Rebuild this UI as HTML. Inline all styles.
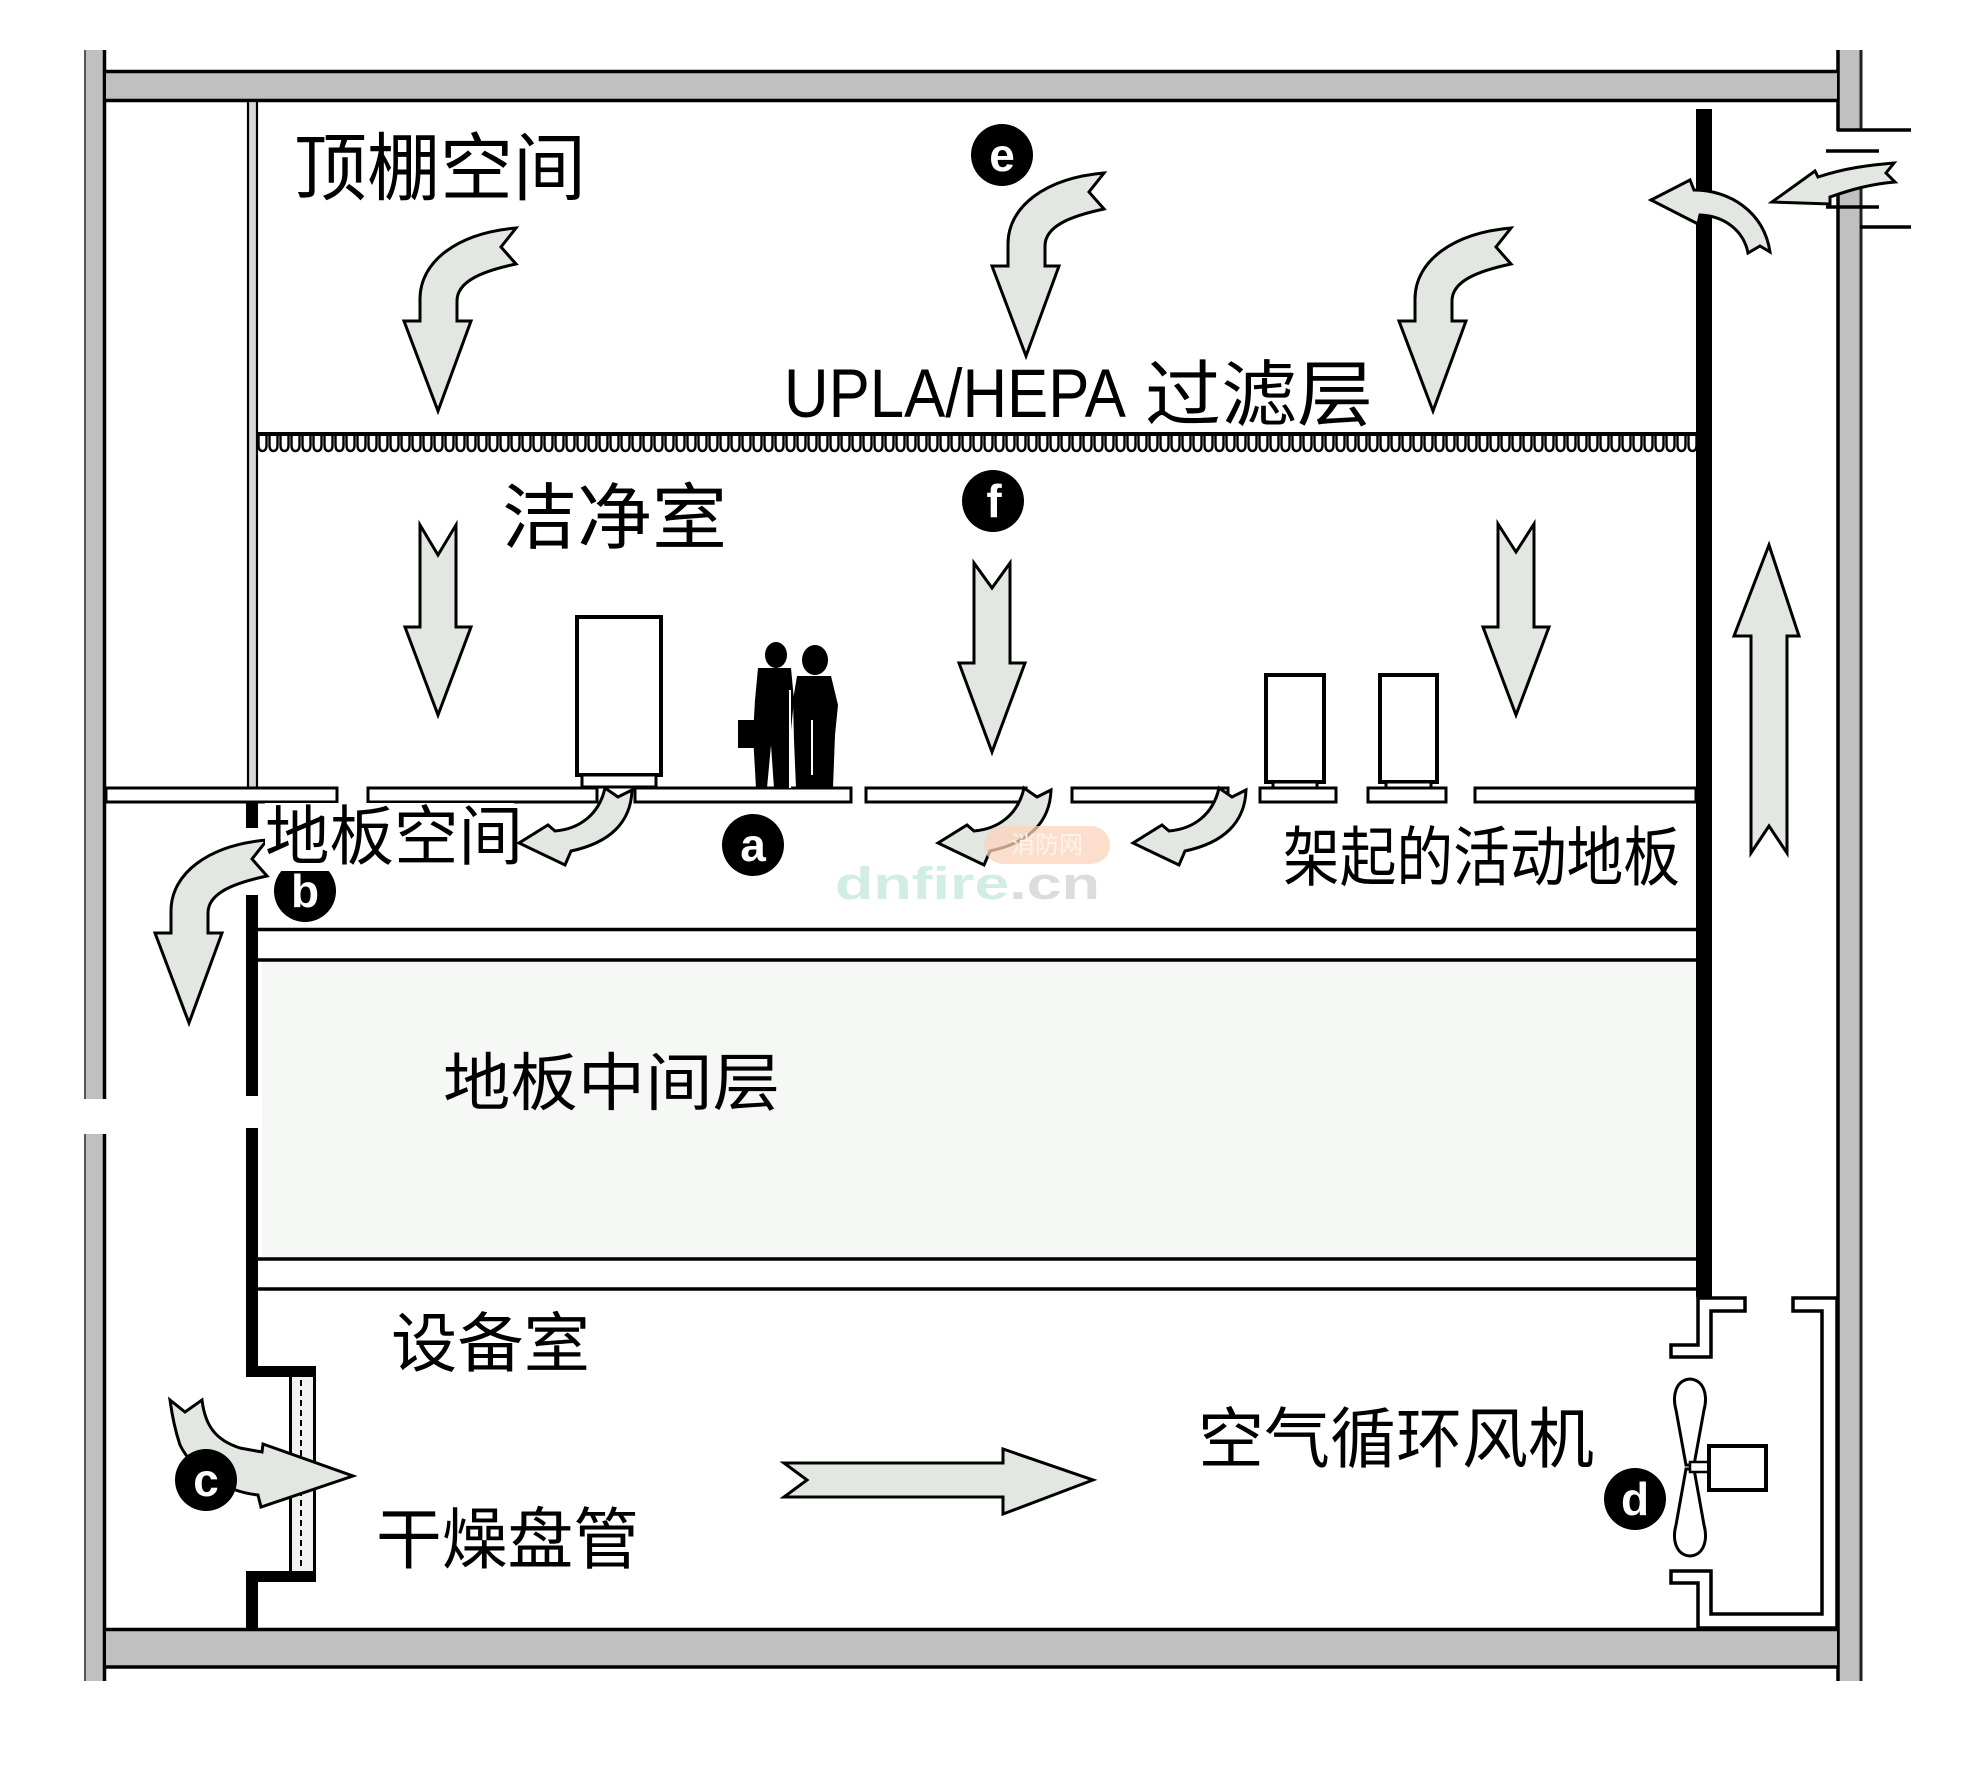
<!DOCTYPE html>
<html>
<head>
<meta charset="utf-8">
<style>
  html,body{margin:0;padding:0;background:#fff;}
  svg{display:block;}
  .cj{font-family:"Liberation Sans","Noto Sans CJK SC","WenQuanYi Zen Hei",sans-serif;fill:#000;}
  .ar{fill:#e2e7e2;stroke:#000;stroke-width:3;stroke-linejoin:miter;}
  .pl{fill:#fff;stroke:#000;stroke-width:3;}
  .ln{stroke:#000;stroke-width:3.5;fill:none;}
  .lt{font-family:"Liberation Sans",sans-serif;font-weight:bold;fill:#fff;text-anchor:middle;}
</style>
</head>
<body>
<svg width="1971" height="1770" viewBox="0 0 1971 1770" xmlns="http://www.w3.org/2000/svg">
  <defs>
    <pattern id="filt" x="257" y="432" width="11" height="23" patternUnits="userSpaceOnUse">
      <rect x="0" y="0" width="11" height="4" fill="#000"/>
      <path d="M1.5,3 V13 Q1.5,19 5.5,19 Q9.5,19 9.5,13 V3" fill="none" stroke="#000" stroke-width="2.4"/>
    </pattern>
  </defs>
  <rect width="1971" height="1770" fill="#fff"/>

  <!-- mid layer fill -->
  <rect x="262" y="962" width="1434" height="296" fill="#f6f8f6"/>

  <!-- left wall -->
  <rect x="84" y="50" width="20" height="1631" fill="#c0c0c0"/>
  <line x1="85" y1="50" x2="85" y2="1681" stroke="#555" stroke-width="2"/>
  <line x1="104.5" y1="50" x2="104.5" y2="1681" stroke="#000" stroke-width="3.5"/>
  <!-- right wall -->
  <rect x="1839" y="50" width="21" height="1631" fill="#c0c0c0"/>
  <line x1="1838" y1="50" x2="1838" y2="1681" stroke="#000" stroke-width="3.5"/>
  <line x1="1861" y1="50" x2="1861" y2="1681" stroke="#222" stroke-width="3"/>
  <!-- top wall -->
  <rect x="106" y="73" width="1731" height="27" fill="#c0c0c0"/>
  <line x1="104" y1="71.5" x2="1839" y2="71.5" stroke="#000" stroke-width="3.5"/>
  <line x1="104" y1="100.5" x2="1839" y2="100.5" stroke="#000" stroke-width="3.5"/>
  <!-- bottom wall -->
  <rect x="106" y="1631" width="1731" height="35" fill="#c0c0c0"/>
  <line x1="104" y1="1629.5" x2="1839" y2="1629.5" stroke="#000" stroke-width="3.5"/>
  <line x1="104" y1="1667" x2="1839" y2="1667" stroke="#000" stroke-width="3.5"/>

  <!-- left wall gap -->
  <rect x="80" y="1099" width="30" height="35" fill="#fff"/>
  <!-- right wall vent -->
  <rect x="1834" y="131" width="32" height="55" fill="#fff"/>
  <line x1="1837" y1="130" x2="1911" y2="130" stroke="#000" stroke-width="3.5"/>
  <line x1="1826" y1="151" x2="1879" y2="151" stroke="#000" stroke-width="3.5"/>
  <line x1="1837" y1="186" x2="1862" y2="186" stroke="#000" stroke-width="3.5"/>
  <line x1="1826" y1="207" x2="1879" y2="207" stroke="#000" stroke-width="3.5"/>
  <line x1="1860" y1="227" x2="1911" y2="227" stroke="#000" stroke-width="3.5"/>

  <!-- thin partition above floor -->
  <rect x="248" y="101" width="9" height="687" fill="#d6d6d6" stroke="#000" stroke-width="2.2"/>

  <!-- right thick partition -->
  <rect x="1696" y="109" width="16" height="1188" fill="#000"/>

  <!-- filter layer -->
  <rect x="257" y="432" width="1439" height="23" fill="url(#filt)"/>

  <!-- left partition below floor -->
  <rect x="246" y="802" width="12" height="26" fill="#000"/>
  <rect x="246" y="895" width="12" height="201" fill="#000"/>
  <rect x="246" y="1128" width="12" height="249" fill="#000"/>
  <rect x="246" y="1366" width="70" height="11" fill="#000"/>
  <rect x="246" y="1571" width="70" height="11" fill="#000"/>
  <rect x="246" y="1571" width="12" height="58" fill="#000"/>
  <!-- coil -->
  <rect x="290" y="1377" width="25" height="194" fill="#f0f2f0"/>
  <line x1="290.5" y1="1377" x2="290.5" y2="1571" stroke="#000" stroke-width="3"/>
  <line x1="314.5" y1="1377" x2="314.5" y2="1571" stroke="#000" stroke-width="3"/>
  <line x1="301" y1="1380" x2="301" y2="1568" stroke="#000" stroke-width="2" stroke-dasharray="6 4"/>

  <!-- floor lines -->
  <line x1="258" y1="929.5" x2="1696" y2="929.5" stroke="#000" stroke-width="3.5"/>
  <line x1="258" y1="960" x2="1696" y2="960" stroke="#000" stroke-width="3.5"/>
  <line x1="258" y1="1259" x2="1696" y2="1259" stroke="#000" stroke-width="3.5"/>
  <line x1="258" y1="1289" x2="1696" y2="1289" stroke="#000" stroke-width="3.5"/>

  <!-- raised floor planks -->
  <rect class="pl" x="106" y="788" width="231" height="14"/>
  <rect class="pl" x="368" y="788" width="229" height="14"/>
  <rect class="pl" x="635" y="788" width="216" height="14"/>
  <rect class="pl" x="866" y="788" width="160" height="14"/>
  <rect class="pl" x="1072" y="788" width="156" height="14"/>
  <rect class="pl" x="1260" y="788" width="76" height="14"/>
  <rect class="pl" x="1368" y="788" width="78" height="14"/>
  <rect class="pl" x="1475" y="788" width="221" height="14"/>

  <!-- equipment -->
  <rect x="577" y="617" width="84" height="158" fill="#fff" stroke="#000" stroke-width="4"/>
  <rect x="582" y="775" width="74" height="12" fill="#fff" stroke="#000" stroke-width="3"/>
  <rect x="1266" y="675" width="58" height="107" fill="#fff" stroke="#000" stroke-width="4"/>
  <rect x="1273" y="782" width="44" height="6" fill="#fff" stroke="#000" stroke-width="3"/>
  <rect x="1380" y="675" width="57" height="107" fill="#fff" stroke="#000" stroke-width="4"/>
  <rect x="1386" y="782" width="45" height="6" fill="#fff" stroke="#000" stroke-width="3"/>

  <!-- people silhouette -->
  <g fill="#000">
    <ellipse cx="776" cy="655" rx="11" ry="13"/>
    <path d="M758,668 L791,668 L794,700 L791,730 L790,788 L774,788 L771,745 L767,788 L756,788 L753,735 L755,700 Z"/>
    <rect x="738" y="720" width="19" height="28"/>
    <ellipse cx="815" cy="660" rx="13" ry="15"/>
    <path d="M797,676 L831,676 L838,705 L835,735 L833,788 L796,788 L794,740 L793,700 Z"/>
  </g>
  <line x1="790" y1="690" x2="790" y2="788" stroke="#fff" stroke-width="2"/>
  <line x1="812" y1="720" x2="812" y2="775" stroke="#fff" stroke-width="2"/>

  <!-- fan duct -->
  <polygon points="1698,1298 1745,1298 1745,1311 1711,1311 1711,1357 1671,1357 1671,1345 1698,1345" fill="#fff" stroke="#000" stroke-width="3.5"/>
  <polygon points="1671,1571 1711,1571 1711,1614 1822,1614 1822,1311 1793,1311 1793,1298 1837,1298 1837,1628 1698,1628 1698,1583 1671,1583" fill="#fff" stroke="#000" stroke-width="3.5"/>
  <!-- fan -->
  <path d="M1686,1465 L1676,1410 C1672,1395 1676,1380 1690,1379 C1704,1380 1708,1395 1704,1410 L1694,1465 Z" fill="#fff" stroke="#000" stroke-width="3"/>
  <path d="M1686,1469 L1676,1525 C1672,1540 1676,1555 1690,1556 C1704,1555 1708,1540 1704,1525 L1694,1469 Z" fill="#fff" stroke="#000" stroke-width="3"/>
  <rect x="1690" y="1462" width="20" height="10" fill="#fff" stroke="#000" stroke-width="2.5"/>
  <rect x="1709" y="1446" width="57" height="44" fill="#fff" stroke="#000" stroke-width="4"/>

  <!-- curved arrows (ceiling + b) -->
  <path class="ar" transform="translate(438,411)" d="M0,0 L-34,-90 L-18,-90 L-18,-112 C-18,-150 20,-178 78,-183 L63,-164 L78,-147 C45,-140 19,-130 19,-110 L19,-90 L33,-90 Z"/>
  <path class="ar" transform="translate(1026,356)" d="M0,0 L-34,-90 L-18,-90 L-18,-112 C-18,-150 20,-178 78,-183 L63,-164 L78,-147 C45,-140 19,-130 19,-110 L19,-90 L33,-90 Z"/>
  <path class="ar" transform="translate(1433,411)" d="M0,0 L-34,-90 L-18,-90 L-18,-112 C-18,-150 20,-178 78,-183 L63,-164 L78,-147 C45,-140 19,-130 19,-110 L19,-90 L33,-90 Z"/>
  <path class="ar" transform="translate(189,1023)" d="M0,0 L-34,-90 L-18,-90 L-18,-112 C-18,-150 20,-178 78,-183 L63,-164 L78,-147 C45,-140 19,-130 19,-110 L19,-90 L33,-90 Z"/>

  <!-- straight down arrows -->
  <path class="ar" transform="translate(438,715)" d="M0,0 L-33,-88 L-18,-88 L-18,-190 L0,-160 L18,-190 L18,-88 L33,-88 Z"/>
  <path class="ar" transform="translate(992,752)" d="M0,0 L-33,-89 L-18,-89 L-18,-189 L0,-164 L18,-189 L18,-89 L33,-89 Z"/>
  <path class="ar" transform="translate(1516,715)" d="M0,0 L-33,-88 L-18,-88 L-18,-191 L0,-163 L18,-191 L18,-88 L33,-88 Z"/>

  <!-- up arrow -->
  <path class="ar" d="M1769,545 L1799,636 L1787,636 L1787,853 L1769,826 L1751,853 L1751,636 L1734,636 Z"/>

  <!-- horizontal arrow -->
  <path class="ar" d="M784,1463 L1003,1463 L1003,1449 L1093,1480 L1003,1514 L1003,1497 L784,1497 L807,1480 Z"/>

  <!-- small under-floor arrows -->
  <path class="ar" transform="translate(519,843)" d="M0,0 L29,-18 L36,-12 C60,-14 80,-28 86,-55 L99,-46 L113,-53 C112,-20 90,0 52,8 L46,22 Z"/>
  <path class="ar" transform="translate(938,843)" d="M0,0 L29,-18 L36,-12 C60,-14 80,-28 86,-55 L99,-46 L113,-53 C112,-20 90,0 52,8 L46,22 Z"/>
  <path class="ar" transform="translate(1133,843)" d="M0,0 L29,-18 L36,-12 C60,-14 80,-28 86,-55 L99,-46 L113,-53 C112,-20 90,0 52,8 L46,22 Z"/>

  <!-- top right arrows -->
  <path class="ar" d="M1651,200 L1690,180 L1694,190 C1730,190 1764,212 1770,252 L1760,246 L1748,253 C1744,232 1726,216 1700,215 L1698,224 Z"/>
  <path class="ar" d="M1772,202 L1815,171 L1818,177 C1845,168 1870,165 1894,163 L1886,173 L1895,182 C1870,184 1850,190 1830,197 L1830,204 Z"/>

  <!-- c arrow -->
  <path class="ar" d="M170,1400 L185,1412 L202,1400 C205,1425 215,1440 240,1448 L262,1452 L263,1444 L353,1476 L261,1507 L258,1495 C230,1492 195,1475 180,1445 C175,1430 172,1415 170,1400 Z"/>

  <!-- watermark -->
  <rect x="984" y="826" width="126" height="38" rx="19" fill="#fbd3bb" opacity="0.75"/>
  <text x="1047" y="853" font-family="'Liberation Sans','Noto Sans CJK SC',sans-serif" font-size="24" fill="#fff3ea" text-anchor="middle">消防网</text>
  <text x="835" y="899" font-family="'Liberation Sans',sans-serif" font-weight="bold" font-size="45" textLength="265" lengthAdjust="spacingAndGlyphs"><tspan fill="#d2ede2">dnfire</tspan><tspan fill="#dcdcdc">.cn</tspan></text>

  <!-- label circles -->
  <circle cx="1002" cy="155" r="31" fill="#000"/>
  <text class="lt" x="1002" y="171" font-size="46">e</text>
  <circle cx="993" cy="501" r="31" fill="#000"/>
  <text class="lt" x="994" y="517" font-size="46">f</text>
  <circle cx="753" cy="845" r="31" fill="#000"/>
  <text class="lt" x="753" y="861" font-size="46">a</text>
  <circle cx="305" cy="891" r="31" fill="#000"/>
  <text class="lt" x="305" y="907" font-size="46">b</text>
  <circle cx="206" cy="1480" r="31" fill="#000"/>
  <text class="lt" x="206" y="1496" font-size="46">c</text>
  <circle cx="1635" cy="1499" r="31" fill="#000"/>
  <text class="lt" x="1635" y="1515" font-size="46">d</text>

  <!-- text box for 地板空间 -->
  <rect x="265" y="803" width="249" height="68" fill="#fff"/>

  <!-- labels -->
  <text class="cj" x="294" y="194" font-size="74" textLength="292" lengthAdjust="spacingAndGlyphs">顶棚空间</text>
  <text x="784" y="417" font-family="'Liberation Sans',sans-serif" font-size="69" textLength="342" lengthAdjust="spacingAndGlyphs" fill="#000">UPLA/HEPA</text>
  <text class="cj" x="1145" y="420" font-size="72" textLength="228" lengthAdjust="spacingAndGlyphs">过滤层</text>
  <text class="cj" x="502" y="543" font-size="72" textLength="225" lengthAdjust="spacingAndGlyphs">洁净室</text>
  <text class="cj" x="265" y="859" font-size="65" textLength="258" lengthAdjust="spacingAndGlyphs">地板空间</text>
  <text class="cj" x="1283" y="880" font-size="65" textLength="397" lengthAdjust="spacingAndGlyphs">架起的活动地板</text>
  <text class="cj" x="443" y="1105" font-size="63" textLength="337" lengthAdjust="spacingAndGlyphs">地板中间层</text>
  <text class="cj" x="391" y="1366" font-size="65" textLength="199" lengthAdjust="spacingAndGlyphs">设备室</text>
  <text class="cj" x="376" y="1563" font-size="67" textLength="263" lengthAdjust="spacingAndGlyphs">干燥盘管</text>
  <text class="cj" x="1198" y="1462" font-size="66" textLength="396" lengthAdjust="spacingAndGlyphs">空气循环风机</text>
</svg>
</body>
</html>
